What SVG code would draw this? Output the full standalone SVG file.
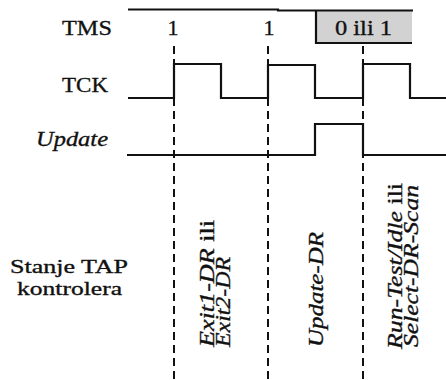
<svg xmlns="http://www.w3.org/2000/svg" width="446" height="380" viewBox="0 0 446 380">
<style>
text{font-family:'Liberation Serif','Times New Roman',Times,serif;fill:#111;stroke:#111;stroke-width:0.35}
.lbl{font-size:22px}
.it{font-style:italic}
.rt{font-size:21px}
.sig{fill:none;stroke:#111;stroke-width:2.2}
.dash{fill:none;stroke:#111;stroke-width:2;stroke-dasharray:8 5}
</style>
<rect width="446" height="380" fill="#fff"/>
<g id="tms">
<rect x="316" y="11" width="96" height="32" fill="#d2d2d2"/>
<polyline class="sig" points="128,9.5 278,9.5 278,10.5 413,10.5"/>
<polyline class="sig" points="316,11 316,43 412,43"/>
<text class="lbl" x="62" y="35" textLength="50" lengthAdjust="spacingAndGlyphs">TMS</text>
<text class="lbl" x="173" y="35" text-anchor="middle">1</text>
<text class="lbl" x="269" y="35" text-anchor="middle">1</text>
<text class="lbl" x="335" y="35" textLength="57" lengthAdjust="spacingAndGlyphs">0 ili 1</text>
</g>
<g id="tck">
<polyline class="sig" points="128,98 174,98 174,64 221,64 221,98 268,98 268,65 315,65 315,98 363,98 363,64 410,64 410,98 446,98"/>
<text class="lbl" x="62" y="92" textLength="46" lengthAdjust="spacingAndGlyphs">TCK</text>
</g>
<g id="update">
<polyline class="sig" points="127,155 315,155 315,124 363,124 363,155 446,155"/>
<text class="lbl it" x="36" y="146" textLength="72" lengthAdjust="spacingAndGlyphs">Update</text>
</g>
<g id="connectors">
<line class="dash" x1="174" y1="46" x2="174" y2="380"/>
<line class="dash" x1="268" y1="46" x2="268" y2="380"/>
<line class="dash" x1="363" y1="46" x2="363" y2="380"/>
</g>
<g id="state-label">
<text x="10" y="273" font-size="19" textLength="118" lengthAdjust="spacingAndGlyphs">Stanje TAP</text>
<text x="17" y="295" font-size="19" textLength="105" lengthAdjust="spacingAndGlyphs">kontrolera</text>
</g>
<g id="state-exit">
<text class="rt" transform="translate(214,347) rotate(-90)" textLength="127" lengthAdjust="spacingAndGlyphs"><tspan class="it">Exit1-DR</tspan> ili</text>
<text class="rt it" transform="translate(230,347) rotate(-90)" textLength="90" lengthAdjust="spacingAndGlyphs">Exit2-DR</text>
</g>
<g id="state-update">
<text class="rt it" transform="translate(323,347) rotate(-90)" textLength="115" lengthAdjust="spacingAndGlyphs">Update-DR</text>
</g>
<g id="state-run">
<text class="rt" transform="translate(402,349) rotate(-90)" textLength="166" lengthAdjust="spacingAndGlyphs"><tspan class="it">Run-Test/Idle</tspan> ili</text>
<text class="rt it" transform="translate(418,347) rotate(-90)" textLength="162" lengthAdjust="spacingAndGlyphs">Select-DR-Scan</text>
</g>
</svg>
